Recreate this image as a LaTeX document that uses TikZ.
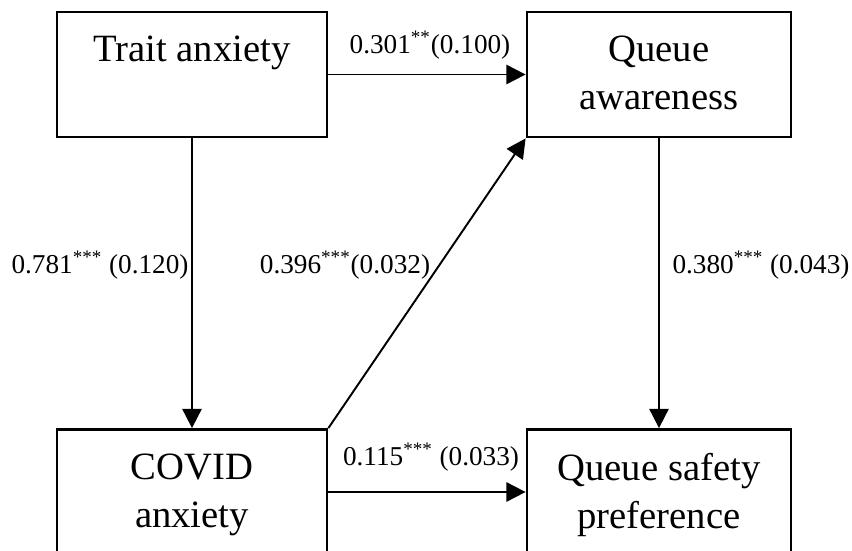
\documentclass[tikz,border=0pt]{standalone}
\usepackage{fontspec}
\setmainfont{Liberation Serif}
\usetikzlibrary{arrows.meta}

\begin{document}
\begin{tikzpicture}[x=0.02cm, y=-0.02cm,
  varbox/.style={draw, rectangle, line width=1.6pt, minimum height=2.5cm},
  vartext/.style={anchor=north, inner sep=0pt, align=center, font=\fontsize{22}{27.3}\selectfont},
  coef/.style={anchor=base, inner sep=0pt, font=\fontsize{15.5}{18}\selectfont},
  path/.style={line width=1.1pt, -{Triangle[length=11pt, width=11pt]}}]
\clip (0,0) rectangle (852,551);
\node[varbox, minimum width=5.4cm] (var0) at (192,74.5){};
\node[varbox, minimum width=5.28cm] (var1) at (659,74.5){};
\node[varbox, minimum width=5.4cm] (var2) at (192,492){};
\node[varbox, minimum width=5.28cm] (var3) at (659,492){};
\node[vartext] (txt0) at ([yshift=-0.5cm]var0.north){Trait anxiety};
\node[vartext] (txt1) at ([yshift=-0.5cm]var1.north){Queue\\awareness};
\node[vartext] (txt2) at ([yshift=-0.5cm]var2.north){COVID\\anxiety};
\node[vartext] (txt3) at ([yshift=-0.5cm]var3.north){Queue safety\\preference};
\draw[path](var0) -- (var1);
\draw[path](var0) -- (var2);
\draw[path](var1) -- (var3);
\draw[path](var2.north east) -- (var1.south west);
\draw[path](var2) -- (var3);
\node[coef] (lab0) at (430,53){0.301\textsuperscript{**}(0.100)};
\node[coef] (lab1) at (100,273){0.781\textsuperscript{***} (0.120)};
\node[coef] (lab2) at (345,273){0.396\textsuperscript{***}(0.032)};
\node[coef] (lab3) at (761,273){0.380\textsuperscript{***} (0.043)};
\node[coef] (lab4) at (431,465){0.115\textsuperscript{***} (0.033)};

\end{tikzpicture}
\end{document}
